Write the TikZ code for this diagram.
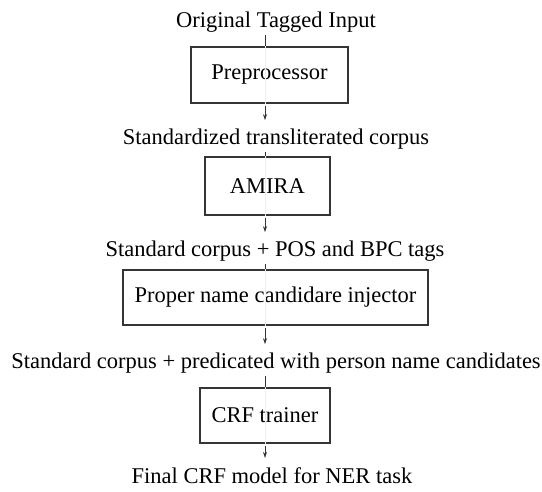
\documentclass[tikz,border=0pt]{standalone}
\usepackage{fontspec}
\setmainfont{Liberation Serif}
\usetikzlibrary{arrows.meta}
\definecolor{boxedge}{HTML}{353535}
\definecolor{spinegray}{HTML}{EEEEEE}

\begin{document}
\begin{tikzpicture}[x=1pt,y=1pt,
  stagebox/.style={draw=boxedge,fill=white,line width=2.2pt,inner sep=0pt,font=\fontsize{22.5}{27}\selectfont},
  flowtext/.style={anchor=base,inner sep=0pt,font=\fontsize{22.5}{27}\selectfont},
  flowline/.style={line width=0.6pt,color=black!80,shorten <=2pt},
  flowarrow/.style={flowline,-{Stealth[length=6pt,width=4pt]},shorten >=9pt}]
\useasboundingbox (0,0) rectangle (542,-492);
\coordinate (spine) at (265,0);
\node[flowtext] (t1) at (276,-28) {Original Tagged Input};
\node[stagebox,minimum width=157,minimum height=56] (pre) at (269.5,-75) {Preprocessor};
\node[flowtext] (t2) at (276,-145) {Standardized transliterated corpus};
\node[stagebox,minimum width=125,minimum height=58] (amira) at (267.5,-186) {AMIRA};
\node[flowtext] (t3) at (275,-257) {Standard corpus + POS and BPC tags};
\node[stagebox,minimum width=305,minimum height=55] (inj) at (275.5,-297.5) {Proper name candidare injector};
\node[flowtext] (t4) at (276,-369) {Standard corpus + predicated with person name candidates};
\node[stagebox,minimum width=130,minimum height=55] (crf) at (265,-415.5) {CRF trainer};
\node[flowtext] (t5) at (272,-483) {Final CRF model for NER task};
% faint spine seen through the boxes
\draw[spinegray] (spine |- pre.north) -- (spine |- pre.south);
\draw[spinegray] (spine |- amira.north) -- (spine |- amira.south);
\draw[spinegray] (spine |- inj.north) -- (spine |- inj.south);
\draw[spinegray] (spine |- crf.north) -- (spine |- crf.south);
\draw[flowline] (spine |- t1.south) -- (spine |- pre.north);
\draw[flowarrow] (spine |- pre.south) -- (spine |- t2.north);
\draw[flowline] (spine |- t2.south) -- (spine |- amira.north);
\draw[flowarrow] (spine |- amira.south) -- (spine |- t3.north);
\draw[flowline] (spine |- t3.south) -- (spine |- inj.north);
\draw[flowarrow] (spine |- inj.south) -- (spine |- t4.north);
\draw[flowline] (spine |- t4.south) -- (spine |- crf.north);
\draw[flowarrow] (spine |- crf.south) -- (spine |- t5.north);
\end{tikzpicture}
\end{document}
